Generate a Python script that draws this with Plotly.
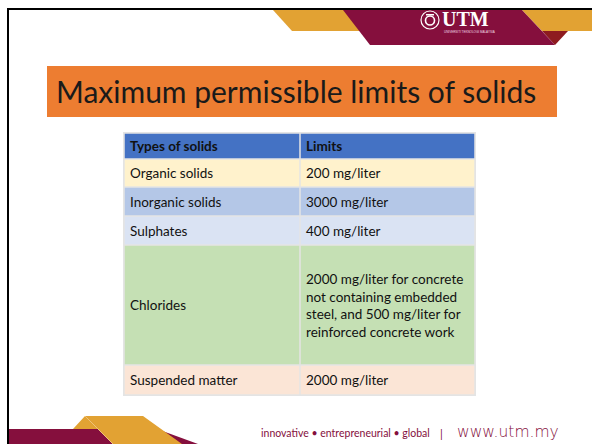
import plotly.graph_objects as go

# ---------------- data ----------------
title = "Maximum permissible limits of solids"
header = ["Types of solids", "Limits"]
solid_types = ["Organic solids", "Inorganic solids", "Sulphates", "Chlorides", "Suspended matter"]
limits = [
    "200 mg/liter",
    "3000 mg/liter",
    "400 mg/liter",
    "2000 mg/liter for concrete<br>not containing embedded<br>steel, and 500 mg/liter for<br>reinforced concrete work",
    "2000 mg/liter",
]
row_colors = ["#FFF2CC", "#B4C7E7", "#DAE3F3", "#C5E0B4", "#FBE5D6"]
header_color = "#4472C4"
footer_tagline = "innovative \u2022 entrepreneurial \u2022 global"
footer_url = "www.utm.my"

# ---------------- layout constants ----------------
W, H = 592, 444
FONT = "Lato"
MAROON = "#850F3D"
GOLD = "#E2A233"

tx0, tmid, tx1 = 124, 300, 475
row_edges = [133, 159, 187, 216, 245, 365, 395]

fig = go.Figure()
shapes = []
ann = []

def poly(pts, color, layer="below", line=None):
    path = "M " + " L ".join(f"{x},{y}" for x, y in pts) + " Z"
    d = dict(type="path", path=path, fillcolor=color, layer=layer,
             line=dict(width=0) if line is None else line, xref="x", yref="y")
    shapes.append(d)

def rect(x0, y0, x1, y1, color, line=None):
    shapes.append(dict(type="rect", x0=x0, y0=y0, x1=x1, y1=y1, fillcolor=color,
                       line=dict(width=0) if line is None else line,
                       xref="x", yref="y", layer="below"))

# slide border
rect(7, 8, W, 10, "#000000")
rect(7, 8, 9, H, "#000000")

# top banner
poly([(273, 10), (360, 10), (380, 31), (292, 31)], GOLD)
poly([(522, 10), (W, 10), (W, 31), (542, 31)], GOLD)
poly([(542, 31), (568, 31), (555, 45)], "#8E1B1F")
poly([(343, 10), (522, 10), (555, 45), (370, 45)], MAROON)

# UTM emblem
shapes.append(dict(type="circle", x0=421, y0=11, x1=439, y1=29, xref="x", yref="y",
                   line=dict(color="white", width=1.2), fillcolor="rgba(0,0,0,0)"))
shapes.append(dict(type="circle", x0=425.5, y0=16, x1=434.5, y1=25, xref="x", yref="y",
                   line=dict(color="white", width=1.6), fillcolor="rgba(0,0,0,0)"))
rect(426, 14, 434, 15.5, "white")
ann.append(dict(x=440, y=19, text="<b>UTM</b>", showarrow=False, xanchor="left", yanchor="middle",
                font=dict(family="Liberation Serif", size=20, color="white")))
ann.append(dict(x=442, y=32, text="UNIVERSITI TEKNOLOGI MALAYSIA", showarrow=False, xanchor="left",
                yanchor="middle", font=dict(family="Liberation Sans", size=3, color="#F3DCE5")))

# title box
rect(47, 66, 557, 117, "#ED7D31")
ann.append(dict(x=54, y=91, text=title, showarrow=False, xanchor="left", yanchor="middle",
                font=dict(family=FONT, size=30, color="#1A1A1A")))

# table
rect(tx0 - 1, row_edges[0] - 1, tx1 + 1, row_edges[-1] + 1, "#E4E4E4")
fills = [header_color] + row_colors
rows = [header] + [[a, b] for a, b in zip(solid_types, limits)]
for i, (cells, fc) in enumerate(zip(rows, fills)):
    y0, y1 = row_edges[i], row_edges[i + 1]
    for j, (cx0, cx1) in enumerate([(tx0, tmid), (tmid, tx1)]):
        rect(cx0 + 0.75, y0 + 0.75, cx1 - 0.75, y1 - 0.75, fc)
        txt = f"<b>{cells[j]}</b>" if i == 0 else cells[j]
        ann.append(dict(x=cx0 + 4, y=(y0 + y1) / 2, text=txt, showarrow=False,
                        xanchor="left", yanchor="middle", align="left",
                        font=dict(family=FONT, size=13.5, color="#111111")))

# footer
poly([(9, 429), (157, 429), (198, 444), (9, 444)], MAROON)
poly([(73, 429), (85, 416), (143, 416), (182, 444), (113, 444), (98, 429)], GOLD)
shapes.append(dict(type="line", x0=85, y0=416, x1=113, y1=444, xref="x", yref="y",
                   line=dict(color="#EEC27A", width=1), layer="below"))
ann.append(dict(x=259, y=433, text=footer_tagline, showarrow=False, xanchor="left", yanchor="middle",
                font=dict(family=FONT, size=10.5, color=MAROON)))
ann.append(dict(x=441, y=433, text="|", showarrow=False, xanchor="center", yanchor="middle",
                font=dict(family=FONT, size=11, color=MAROON)))
ann.append(dict(x=455, y=432, text=footer_url, showarrow=False, xanchor="left", yanchor="middle",
                font=dict(family="DejaVu Sans", size=15.5, color=MAROON, weight=300)))

fig.add_trace(go.Scatter(x=[0, W], y=[0, H], mode="markers", marker=dict(opacity=0),
                         hoverinfo="skip", showlegend=False))
fig.update_layout(
    width=W, height=H, margin=dict(l=0, r=0, t=0, b=0),
    paper_bgcolor="white", plot_bgcolor="white",
    shapes=shapes, annotations=ann, showlegend=False,
    xaxis=dict(range=[0, W], visible=False, fixedrange=True),
    yaxis=dict(range=[H, 0], visible=False, fixedrange=True),
)
fig.write_html("out.html", config={"displayModeBar": False},
               post_script="document.body.style.margin='0';document.body.style.overflow='hidden';")
